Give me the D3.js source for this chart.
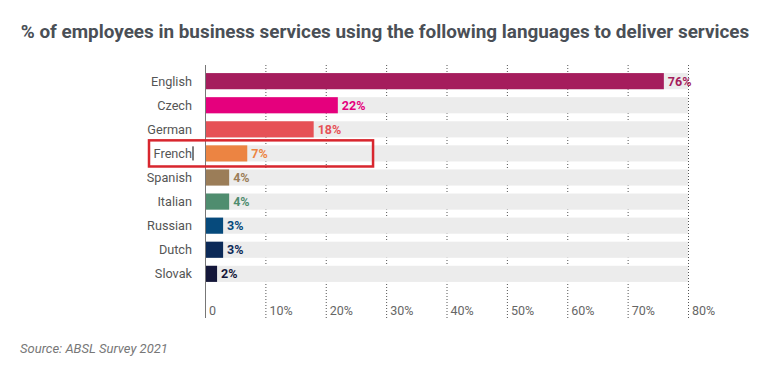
<!DOCTYPE html>
<html>
<head>
<meta charset="utf-8">
<script src="https://cdn.jsdelivr.net/npm/d3@7"></script>
<style>
  body { margin: 0; background: #fff; }
  svg { font-family: Roboto, "Noto Sans", sans-serif; }
</style>
</head>
<body>
<div id="chart"></div>
<script>
const languages = ["English", "Czech", "German", "French", "Spanish", "Italian", "Russian", "Dutch", "Slovak"];
const shares = [76, 22, 18, 7, 4, 4, 3, 3, 2];
const bar_colors = ["#a51d5d", "#e5007d", "#e65156", "#ec8442", "#9b7d58", "#4f8d6f", "#064a7c", "#0c2a58", "#14173a"];
const tick_values = [0, 10, 20, 30, 40, 50, 60, 70, 80];
const highlight = "French";

const data = languages.map((lang, i) => ({lang: lang, value: shares[i], color: bar_colors[i]}));

const W = 778, H = 376;
const margin = {top: 69, left: 205, right: 90, bottom: 90};

const svg = d3.select("#chart").append("svg")
    .attr("width", W)
    .attr("height", H);

// title
svg.append("text")
    .attr("x", 385)
    .attr("y", 38)
    .attr("text-anchor", "middle")
    .attr("font-size", "18.9px")
    .attr("font-weight", "bold")
    .attr("fill", "#4a4f56")
    .text("% of employees in business services using the following languages to deliver services");

const plot_g = svg.append("g")
    .attr("transform", `translate(${margin.left},${margin.top})`);

const x = d3.scaleLinear()
    .domain([0, 80])
    .range([0, 483]);

const y = d3.scaleBand()
    .domain(languages)
    .range([0, 217])
    .paddingInner(0.33)
    .paddingOuter(0.17);

// dotted grid
plot_g.selectAll(".grid")
    .data(tick_values.slice(1))
    .join("line")
    .attr("x1", d => x(d) + 0.5)
    .attr("x2", d => x(d) + 0.5)
    .attr("y1", -4)
    .attr("y2", 249)
    .attr("stroke", "#555")
    .attr("stroke-width", 1)
    .attr("stroke-dasharray", "1,2");

// tick labels
plot_g.selectAll(".tick-label")
    .data(tick_values)
    .join("text")
    .attr("x", d => x(d) + 4)
    .attr("y", 246)
    .attr("font-size", "12.5px")
    .attr("fill", "#666")
    .text(d => d === 0 ? "0" : d + "%");

// background tracks
plot_g.selectAll(".track")
    .data(data)
    .join("rect")
    .attr("x", 0)
    .attr("y", d => y(d.lang))
    .attr("width", x(80))
    .attr("height", y.bandwidth())
    .attr("fill", "#ececec");

// bars
plot_g.selectAll(".bar")
    .data(data)
    .join("rect")
    .attr("x", 0)
    .attr("y", d => y(d.lang))
    .attr("width", d => x(d.value))
    .attr("height", y.bandwidth())
    .attr("fill", d => d.color);

// value labels
plot_g.selectAll(".val")
    .data(data)
    .join("text")
    .attr("x", d => x(d.value) + 4)
    .attr("y", d => y(d.lang) + y.bandwidth() / 2)
    .attr("dy", "0.36em")
    .attr("font-size", "12.5px")
    .attr("font-weight", "bold")
    .attr("fill", d => d.color)
    .text(d => d.value + "%");

// category labels
plot_g.selectAll(".cat")
    .data(data)
    .join("text")
    .attr("x", -13)
    .attr("y", d => y(d.lang) + y.bandwidth() / 2)
    .attr("dy", "0.36em")
    .attr("text-anchor", "end")
    .attr("font-size", "12.7px")
    .attr("fill", "#555")
    .text(d => d.lang);

// vertical axis line
plot_g.append("line")
    .attr("x1", 0.5)
    .attr("x2", 0.5)
    .attr("y1", -4)
    .attr("y2", 249)
    .attr("stroke", "#777")
    .attr("stroke-width", 1);

// highlight box round French
const hy = y(highlight);
plot_g.append("rect")
    .attr("x", -56)
    .attr("y", hy - 5)
    .attr("width", x(28) + 56 - 1)
    .attr("height", y.bandwidth() + 10)
    .attr("fill", "none")
    .attr("stroke", "#d8262e")
    .attr("stroke-width", 2.5);

// text cursor after French
plot_g.append("line")
    .attr("x1", -12)
    .attr("x2", -12)
    .attr("y1", hy + 1)
    .attr("y2", hy + y.bandwidth() - 1)
    .attr("stroke", "#000")
    .attr("stroke-width", 1);

// source
svg.append("text")
    .attr("x", 20)
    .attr("y", 353)
    .attr("font-size", "13px")
    .attr("font-style", "italic")
    .attr("fill", "#777")
    .text("Source: ABSL Survey 2021");
</script>
</body>
</html>
